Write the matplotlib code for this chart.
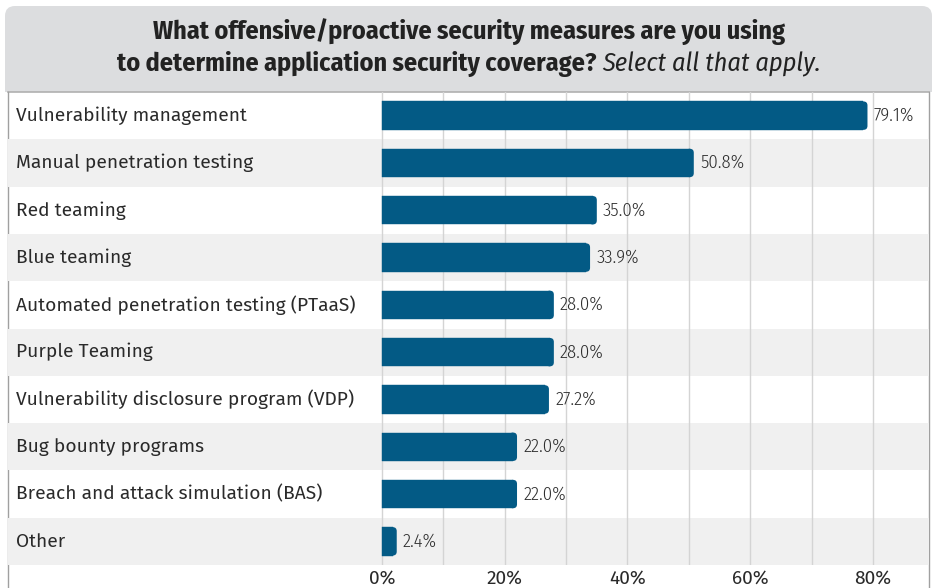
import matplotlib
matplotlib.use("Agg")
import matplotlib.pyplot as plt
from matplotlib.patches import FancyBboxPatch, Rectangle
from matplotlib import font_manager

categories = [
    "Vulnerability management",
    "Manual penetration testing",
    "Red teaming",
    "Blue teaming",
    "Automated penetration testing (PTaaS)",
    "Purple Teaming",
    "Vulnerability disclosure program (VDP)",
    "Bug bounty programs",
    "Breach and attack simulation (BAS)",
    "Other",
]
values = [79.1, 50.8, 35.0, 33.9, 28.0, 28.0, 27.2, 22.0, 22.0, 2.4]
tick_values = [0, 20, 40, 60, 80]
tick_labels = ["0%", "20%", "40%", "60%", "80%"]

installed = {f.name for f in font_manager.fontManager.ttflist}


def pick(*fams):
    for f in fams:
        if f in installed:
            return f
    return "DejaVu Sans"


COND = pick("Fira Sans Condensed", "Fira Sans Extra Condensed", "Roboto Condensed")
SANS = pick("Fira Sans", "Open Sans")

BAR = "#035a85"
TXT = "#2a2a2a"

W, H = 937, 588
fig = plt.figure(figsize=(W / 100, H / 100), dpi=100)
fig.patch.set_facecolor("white")

# header box with rounded top corners, frame lines around the chart
hdr = fig.add_axes([0, 0, 1, 1])
hdr.set_xlim(0, W)
hdr.set_ylim(H, 0)
hdr.axis("off")
hdr.add_patch(FancyBboxPatch((5, 6), 927, 100, boxstyle="round,pad=0,rounding_size=10",
                             fc="#dcdddf", ec="none"))
hdr.add_patch(Rectangle((0, 92), W, H, fc="white", ec="none"))
hdr.plot([8, 929], [92, 92], color="#b0b0b0", lw=1.2)
hdr.plot([8, 8], [92, H], color="#a0a0a0", lw=1)
hdr.plot([929, 929], [92, H], color="#a0a0a0", lw=1)

title_kw = dict(fontsize=18.8, color="#222222", family=COND, va="center")
hdr.text(469, 32, "What offensive/proactive security measures are you using",
         ha="center", fontweight="bold", **title_kw)
t1 = hdr.text(0, 64, "to determine application security coverage? ", ha="left",
              fontweight="bold", **title_kw)
t2 = hdr.text(0, 64, "Select all that apply.", ha="left", style="italic", **title_kw)
rend = fig.canvas.get_renderer()
w1 = t1.get_window_extent(rend).width
w2 = t2.get_window_extent(rend).width
start = 469 - (w1 + w2) / 2
t1.set_x(start)
t2.set_x(start + w1)

# chart area: x in percent, label column sits left of 0
px_per = (873 - 382) / 80
x0 = (8 - 382) / px_per
x1 = (929 - 382) / px_per
ax = fig.add_axes([8 / W, (H - 565) / H, (929 - 8) / W, (565 - 92) / H])
ax.set_xlim(x0, x1)
ax.set_ylim(len(values) - 0.5, -0.5)
ax.patch.set_alpha(0)
for s in ax.spines.values():
    s.set_visible(False)

for i in range(len(categories)):
    if i % 2 == 1:
        ax.axhspan(i - 0.5, i + 0.5, color="#f0f0f0", lw=0, zorder=0)

for g in range(0, 90, 10):
    ax.plot([g, g], [len(values) - 0.5, -0.5], color="#d4d4d4", lw=1, zorder=1)

bh = 0.6
ypx = (565 - 92) / len(values)
r = 4 / px_per
for i, v in enumerate(values):
    # square left part plus a rounded cap on the right end
    ax.barh(i, v - r, height=bh, color=BAR, ec=BAR, lw=0.3, zorder=2)
    ax.add_patch(FancyBboxPatch((v - 2 * r, i - bh / 2), 2 * r, bh,
                                boxstyle=f"round,pad=0,rounding_size={r}",
                                mutation_aspect=px_per / ypx, fc=BAR, ec="none", zorder=2))
    ax.text(v + 1, i, f"{v:.1f}%", va="center", ha="left", fontsize=13.5,
            fontweight=300, color="#2e2e2e", family=COND)
    ax.text(x0 + 8 / px_per, i, categories[i], va="center", ha="left", fontsize=13.8,
            color=TXT, family=SANS)

ax.set_yticks([])
ax.set_xticks(tick_values)
ax.set_xticklabels(tick_labels, fontsize=13.8, color=TXT, family=SANS)
ax.tick_params(axis="x", length=0, pad=3)

fig.savefig("out.png", dpi=100, facecolor="white")
